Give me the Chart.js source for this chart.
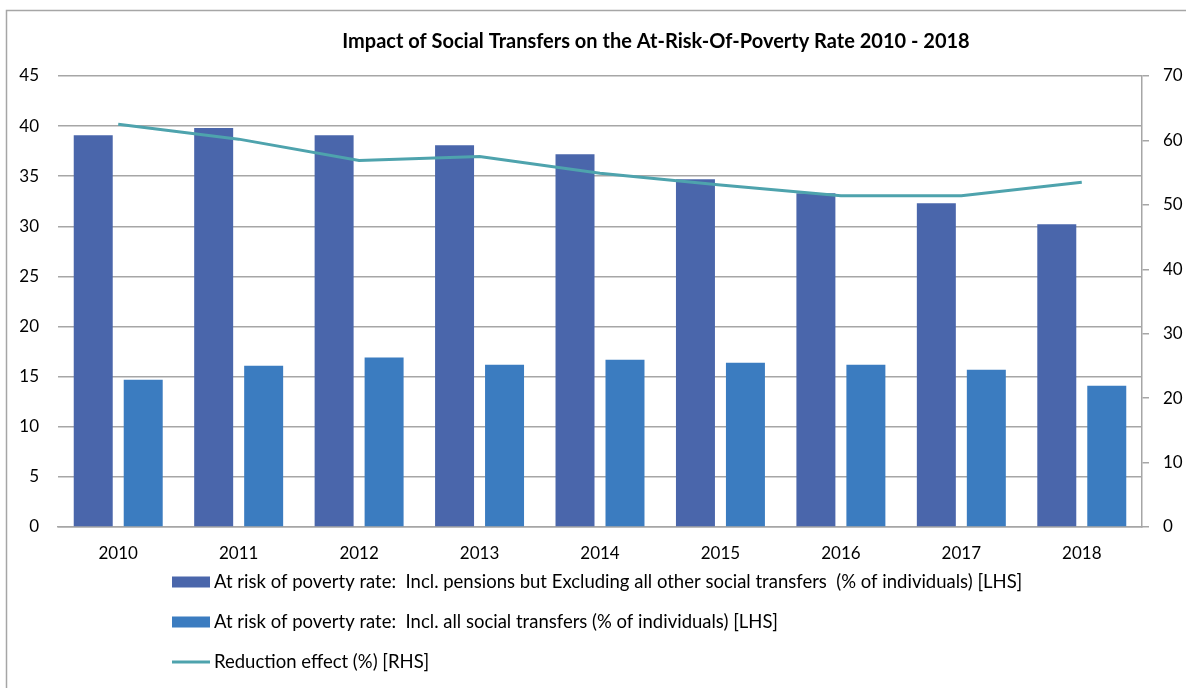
<!DOCTYPE html>
<html>
<head>
<meta charset="utf-8">
<script src="https://cdn.jsdelivr.net/npm/chart.js@4.4.1/dist/chart.umd.min.js"></script>
<style>
  html, body { margin: 0; padding: 0; background: #fff; }
  #wrap { width: 1186px; height: 688px; position: relative; }
</style>
</head>
<body>
<div id="wrap"><canvas id="povertyChart"></canvas></div>
<script>
// categories and series
var years = ["2010", "2011", "2012", "2013", "2014", "2015", "2016", "2017", "2018"];
var exclTransfers = [39.1, 39.8, 39.1, 38.1, 37.2, 34.7, 33.3, 32.3, 30.2];
var inclTransfers = [14.7, 16.1, 16.9, 16.2, 16.7, 16.4, 16.2, 15.7, 14.1];
var reductionEffect = [62.5, 60.2, 56.9, 57.5, 54.9, 53.1, 51.4, 51.4, 53.5];

var chartTitle = "Impact of Social Transfers on the At-Risk-Of-Poverty Rate 2010 - 2018";
var gridGray = "#a6a6a6";

Chart.defaults.font.family = "Lato, 'Open Sans', sans-serif";
Chart.defaults.font.size = 17;
Chart.defaults.color = "#000";

// frame + title, drawn behind the chart
var framePlugin = {
  id: "frame",
  beforeDraw: function (chart) {
    var ctx = chart.ctx;
    ctx.save();
    ctx.strokeStyle = gridGray;
    ctx.lineWidth = 1.5;
    ctx.beginPath();
    ctx.moveTo(6.5, 700);
    ctx.lineTo(6.5, 10.5);
    ctx.lineTo(1200, 10.5);
    ctx.stroke();
    ctx.fillStyle = "#000";
    ctx.font = "bold 20px Lato, sans-serif";
    ctx.textAlign = "center";
    ctx.textBaseline = "middle";
    ctx.fillText(chartTitle, 656, 42);
    ctx.restore();
  }
};

// one legend entry per row, like the original
var stackedLegend = {
  id: "stackedLegend",
  afterDraw: function (chart) {
    var ctx = chart.ctx;
    var x0 = 172, y0 = 582, rowH = 40;
    ctx.save();
    ctx.font = "18.5px Lato, sans-serif";
    ctx.textBaseline = "middle";
    ctx.textAlign = "left";
    chart.data.datasets.forEach(function (ds, i) {
      var y = y0 + i * rowH;
      if (ds.type === "line") {
        ctx.strokeStyle = ds.borderColor;
        ctx.lineWidth = 3;
        ctx.beginPath();
        ctx.moveTo(x0, y);
        ctx.lineTo(x0 + 38, y);
        ctx.stroke();
      } else {
        ctx.fillStyle = ds.backgroundColor;
        ctx.fillRect(x0, y - 5.5, 38, 11);
      }
      ctx.fillStyle = "#000";
      ctx.fillText(ds.label, x0 + 42, y);
    });
    ctx.restore();
  }
};

var ctx = document.getElementById("povertyChart").getContext("2d");
var povertyChart = new Chart(ctx, {
  type: "bar",
  data: {
    labels: years,
    datasets: [
      {
        label: "At risk of poverty rate:  Incl. pensions but Excluding all other social transfers  (% of individuals) [LHS]",
        data: exclTransfers,
        backgroundColor: "#4a66ab",
        yAxisID: "y",
        order: 1,
        categoryPercentage: 0.83,
        barPercentage: 0.78
      },
      {
        label: "At risk of poverty rate:  Incl. all social transfers (% of individuals) [LHS]",
        data: inclTransfers,
        backgroundColor: "#3b7cc0",
        yAxisID: "y",
        order: 1,
        categoryPercentage: 0.83,
        barPercentage: 0.78
      },
      {
        type: "line",
        label: "Reduction effect (%) [RHS]",
        data: reductionEffect,
        borderColor: "#4ea3ad",
        backgroundColor: "#4ea3ad",
        borderWidth: 3,
        pointRadius: 0,
        tension: 0,
        yAxisID: "y1",
        order: 0
      }
    ]
  },
  options: {
    responsive: true,
    maintainAspectRatio: false,
    animation: false,
    layout: { padding: { top: 76, left: 0, right: 0, bottom: 0 } },
    plugins: {
      legend: { display: false },
      title: { display: false },
      tooltip: { enabled: false }
    },
    scales: {
      x: {
        grid: { display: false, drawTicks: false },
        border: { display: true, color: gridGray, width: 1.5 },
        ticks: { padding: 16 },
        afterFit: function (scale) { scale.height = 161; }
      },
      y: {
        position: "left",
        min: 0,
        max: 45,
        ticks: { stepSize: 5, padding: 19 },
        grid: { color: gridGray, lineWidth: 1.5, drawTicks: false },
        border: { display: false },
        afterFit: function (scale) { scale.width = 58; }
      },
      y1: {
        position: "right",
        min: 0,
        max: 70,
        ticks: { stepSize: 10, padding: 14 },
        grid: { drawOnChartArea: false, drawTicks: true, tickLength: 7, color: gridGray, lineWidth: 1.5 },
        border: { display: true, color: gridGray, width: 1.5 },
        afterFit: function (scale) { scale.width = 44; }
      }
    }
  },
  plugins: [framePlugin, stackedLegend]
});
</script>
</body>
</html>
